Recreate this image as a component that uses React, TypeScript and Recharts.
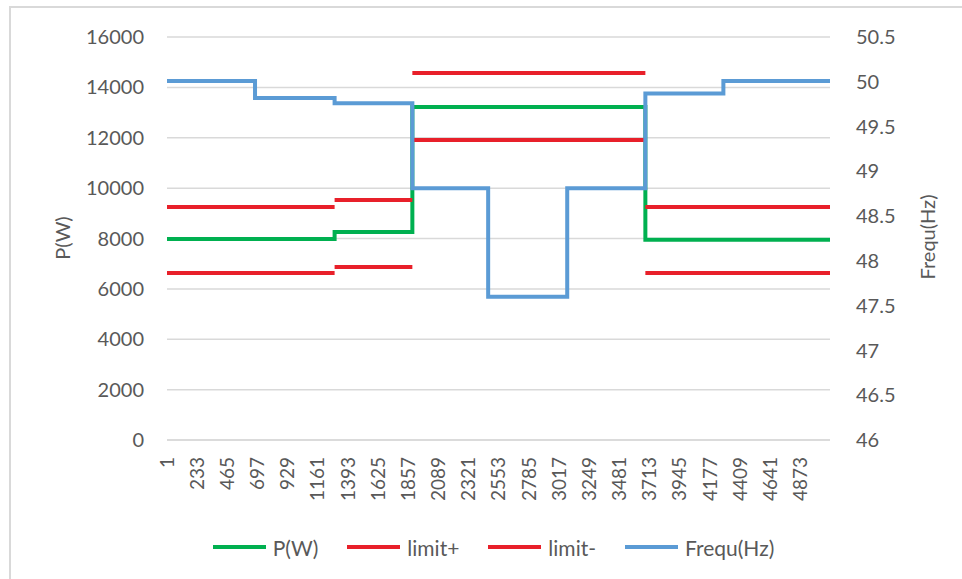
import React from "react";
import {
  LineChart,
  Line,
  XAxis,
  YAxis,
  CartesianGrid,
  Legend,
} from "recharts";

// sample index where each step segment starts (last sample = lastIndex)
const segmentStarts = [1, 678, 1290, 1888, 2471, 3079, 3680, 4280];
const lastIndex = 5100;

const power = [7980, 7980, 8260, 13220, 13220, 13220, 7950, 7950];
const limitPlus = [9250, 9250, 9530, 14570, 14570, 14570, 9250, 9250];
const limitMinus = [6630, 6630, 6870, 11910, 11910, 11910, 6630, 6630];
const frequ = [50.01, 49.82, 49.76, 48.81, 47.6, 48.81, 49.87, 50.01];

const xTicks = [
  1, 233, 465, 697, 929, 1161, 1393, 1625, 1857, 2089, 2321, 2553, 2785,
  3017, 3249, 3481, 3713, 3945, 4177, 4409, 4641, 4873,
];
const powerTicks = [0, 2000, 4000, 6000, 8000, 10000, 12000, 14000, 16000];
const frequTicks = [46, 46.5, 47, 47.5, 48, 48.5, 49, 49.5, 50, 50.5];

type Pt = { x: number; y: number | null };

// step series from segment values; broken=true leaves a gap where the value changes
function toSteps(values: number[], broken: boolean): Pt[] {
  const pts: Pt[] = [];
  values.forEach((v, i) => {
    const start = segmentStarts[i];
    const end = i + 1 < segmentStarts.length ? segmentStarts[i + 1] : lastIndex;
    if (broken && i > 0 && values[i - 1] !== v) {
      pts.push({ x: start, y: null });
    }
    pts.push({ x: start, y: v });
    pts.push({ x: end, y: v });
  });
  return pts;
}

const FONT = "Lato, 'Open Sans', sans-serif";
const TEXT = "#595959";

const legendItems = [
  { name: "P(W)", color: "#00B050" },
  { name: "limit+", color: "#E8202A" },
  { name: "limit-", color: "#E8202A" },
  { name: "Frequ(Hz)", color: "#5B9BD5" },
];

const XTick = (props: any) => {
  const { x, y, payload } = props;
  return (
    <text
      x={x}
      y={y}
      dy="0.35em"
      transform={`rotate(-90 ${x} ${y})`}
      textAnchor="end"
      fill={TEXT}
      fontSize={19}
      fontFamily={FONT}
    >
      {payload.value}
    </text>
  );
};

const ChartLegend = () => (
  <div
    style={{
      height: 34,
      display: "flex",
      justifyContent: "center",
      alignItems: "center",
      gap: 29,
      paddingRight: 10,
      fontFamily: FONT,
      fontSize: 21,
      color: TEXT,
    }}
  >
    {legendItems.map((it) => (
      <div key={it.name} style={{ display: "flex", alignItems: "center" }}>
        <span
          style={{
            display: "inline-block",
            width: 53,
            height: 4,
            background: it.color,
            marginRight: 7,
          }}
        />
        <span>{it.name}</span>
      </div>
    ))}
  </div>
);

export default function App() {
  return (
    <div style={{ position: "absolute", left: 0, top: 0, width: 962, height: 579, background: "#fff" }}>
      <div
        style={{
          position: "absolute",
          left: 9,
          top: 6,
          width: 953,
          height: 573,
          borderTop: "2px solid #D9D9D9",
          borderLeft: "2px solid #D9D9D9",
          boxSizing: "border-box",
        }}
      />
      <LineChart
        width={962}
        height={579}
        margin={{ top: 37, right: 32, bottom: 15, left: 67 }}
      >
        <CartesianGrid yAxisId="left" vertical={false} stroke="#D9D9D9" strokeWidth={1.5} />
        <XAxis
          type="number"
          dataKey="x"
          domain={[1, lastIndex]}
          ticks={xTicks}
          interval={0}
          tick={<XTick />}
          tickLine={false}
          tickSize={0}
          tickMargin={17}
          axisLine={{ stroke: "#D9D9D9", strokeWidth: 1.5 }}
          height={90}
          allowDataOverflow
        />
        <YAxis
          yAxisId="left"
          domain={[0, 16000]}
          ticks={powerTicks}
          interval={0}
          width={100}
          axisLine={false}
          tickLine={false}
          tickSize={0}
          tickMargin={23}
          tick={{ fill: TEXT, fontSize: 20, fontFamily: FONT }}
          label={{
            content: () => (
              <text
                x={62}
                y={238}
                transform="rotate(-90 62 238)"
                textAnchor="middle"
                dominantBaseline="central"
                fill={TEXT}
                fontSize={20}
                fontFamily={FONT}
              >
                P(W)
              </text>
            ),
          }}
        />
        <YAxis
          yAxisId="right"
          orientation="right"
          domain={[46, 50.5]}
          ticks={frequTicks}
          interval={0}
          width={100}
          axisLine={false}
          tickLine={false}
          tickSize={0}
          tickMargin={26}
          tick={{ fill: TEXT, fontSize: 20, fontFamily: FONT, textAnchor: "start" }}
          label={{
            content: () => (
              <text
                x={927}
                y={237}
                transform="rotate(-90 927 237)"
                textAnchor="middle"
                dominantBaseline="central"
                fill={TEXT}
                fontSize={20}
                fontFamily={FONT}
              >
                Frequ(Hz)
              </text>
            ),
          }}
        />
        <Legend verticalAlign="bottom" content={<ChartLegend />} />
        <Line
          yAxisId="left"
          data={toSteps(power, false)}
          dataKey="y"
          name="P(W)"
          stroke="#00B050"
          strokeWidth={4}
          dot={false}
          isAnimationActive={false}
        />
        <Line
          yAxisId="left"
          data={toSteps(limitPlus, true)}
          dataKey="y"
          name="limit+"
          stroke="#E8202A"
          strokeWidth={4}
          dot={false}
          isAnimationActive={false}
        />
        <Line
          yAxisId="left"
          data={toSteps(limitMinus, true)}
          dataKey="y"
          name="limit-"
          stroke="#E8202A"
          strokeWidth={4}
          dot={false}
          isAnimationActive={false}
        />
        <Line
          yAxisId="right"
          data={toSteps(frequ, false)}
          dataKey="y"
          name="Frequ(Hz)"
          stroke="#5B9BD5"
          strokeWidth={4}
          dot={false}
          isAnimationActive={false}
        />
      </LineChart>
    </div>
  );
}
